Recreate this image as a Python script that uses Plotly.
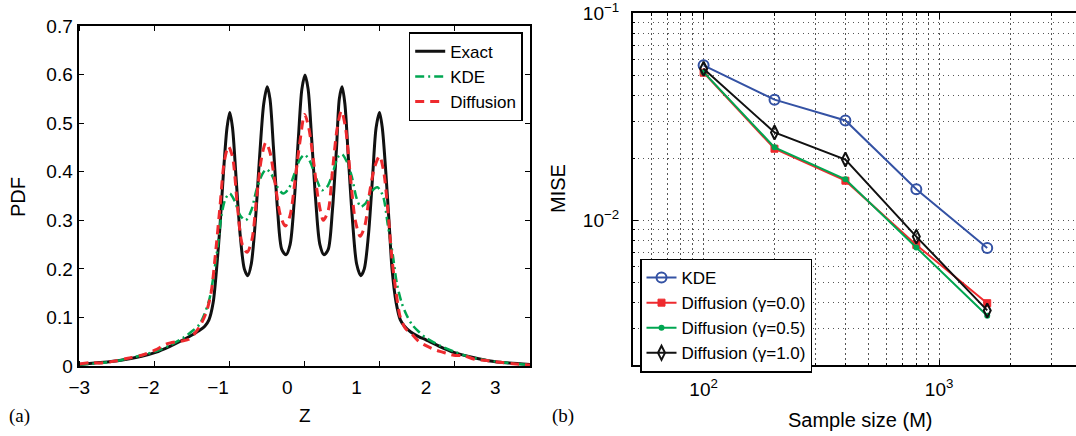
import plotly.graph_objects as go
import math

# ---------------- data: panel (a) ----------------
exact_z = [-3.0, -2.7, -2.4, -2.1, -1.9, -1.7, -1.5, -1.35, -1.26, -1.19, -1.13, -1.07,
           -1.02, -0.97, -0.92, -0.87, -0.83, -0.79, -0.74, -0.68, -0.62, -0.57, -0.52,
           -0.46, -0.40, -0.34, -0.29, -0.25, -0.20, -0.14, -0.08, -0.02, 0.04, 0.10,
           0.16, 0.21, 0.255, 0.30, 0.35, 0.41, 0.47, 0.53, 0.59, 0.65, 0.71, 0.75, 0.79,
           0.83, 0.88, 0.94, 1.00, 1.06, 1.11, 1.17, 1.23, 1.28, 1.33, 1.37, 1.42, 1.47,
           1.51, 1.57, 1.63, 1.69, 1.78, 1.9, 2.0, 2.2, 2.4, 2.6, 2.9, 3.2, 3.5]
exact_p = [0.003, 0.007, 0.012, 0.020, 0.028, 0.040, 0.054, 0.066, 0.074, 0.082, 0.095, 0.13,
           0.20, 0.29, 0.40, 0.49, 0.522, 0.49, 0.39, 0.27, 0.20, 0.186, 0.21,
           0.30, 0.43, 0.54, 0.575, 0.55, 0.45, 0.32, 0.24, 0.229, 0.25, 0.34,
           0.47, 0.57, 0.599, 0.57, 0.47, 0.34, 0.25, 0.229, 0.24, 0.32, 0.45, 0.55, 0.575,
           0.54, 0.43, 0.30, 0.21, 0.186, 0.20, 0.27, 0.39, 0.49, 0.522, 0.49, 0.40, 0.29,
           0.20, 0.13, 0.095, 0.082, 0.070, 0.060, 0.054, 0.040, 0.028, 0.020, 0.011, 0.006, 0.003]

kde_z = [-3.0, -2.7, -2.4, -2.1, -1.9, -1.7, -1.5, -1.37, -1.27, -1.2, -1.12, -1.06, -1.0,
         -0.95, -0.89, -0.83, -0.76, -0.68, -0.6, -0.52, -0.44, -0.36, -0.30, -0.23, -0.15,
         -0.06, 0.02, 0.10, 0.18, 0.25, 0.33, 0.42, 0.50, 0.58, 0.66, 0.73, 0.79, 0.86,
         0.93, 1.0, 1.06, 1.13, 1.22, 1.30, 1.38, 1.45, 1.52, 1.58, 1.65, 1.72, 1.8, 1.9,
         2.0, 2.2, 2.4, 2.6, 2.9, 3.2, 3.5]
kde_p = [0.003, 0.006, 0.012, 0.022, 0.030, 0.042, 0.058, 0.072, 0.085, 0.105, 0.14, 0.19, 0.25,
         0.31, 0.345, 0.355, 0.34, 0.31, 0.30, 0.32, 0.365, 0.395, 0.405, 0.395, 0.37,
         0.355, 0.365, 0.395, 0.425, 0.435, 0.42, 0.385, 0.362, 0.37, 0.40, 0.43, 0.436, 0.42,
         0.39, 0.345, 0.328, 0.335, 0.36, 0.368, 0.35, 0.29, 0.23, 0.17, 0.13, 0.105, 0.085, 0.070,
         0.058, 0.042, 0.030, 0.020, 0.011, 0.006, 0.002]

diff_z = [-3.0, -2.85, -2.7, -2.5, -2.3, -2.1, -1.9, -1.75, -1.6, -1.5, -1.42, -1.33, -1.25,
          -1.17, -1.1, -1.03, -0.97, -0.91, -0.85, -0.79, -0.72, -0.65, -0.58, -0.51, -0.44,
          -0.37, -0.31, -0.25, -0.18, -0.10, -0.03, 0.04, 0.11, 0.18, 0.25, 0.31, 0.38, 0.45,
          0.52, 0.59, 0.65, 0.72, 0.78, 0.84, 0.91, 0.98, 1.05, 1.12, 1.19, 1.26, 1.33, 1.39,
          1.45, 1.51, 1.57, 1.63, 1.7, 1.8, 1.9, 2.0, 2.1, 2.2, 2.3, 2.4, 2.55, 2.7, 2.9,
          3.1, 3.3, 3.5]
diff_p = [0.004, 0.007, 0.006, 0.010, 0.016, 0.022, 0.033, 0.045, 0.050, 0.052, 0.055, 0.068, 0.085,
          0.11, 0.15, 0.24, 0.33, 0.42, 0.452, 0.43, 0.33, 0.25, 0.234, 0.26, 0.35,
          0.43, 0.46, 0.44, 0.38, 0.31, 0.288, 0.31, 0.38, 0.46, 0.518, 0.49, 0.42, 0.34,
          0.30, 0.32, 0.40, 0.49, 0.525, 0.49, 0.39, 0.30, 0.267, 0.29, 0.36, 0.41, 0.432, 0.40,
          0.32, 0.22, 0.15, 0.10, 0.078, 0.065, 0.050, 0.042, 0.035, 0.030, 0.026, 0.022, 0.021, 0.014, 0.011,
          0.007, 0.004, 0.002]

a_xtick_vals = [-3, -2, -1, 0, 1, 2, 3]
a_xtick_text = ["\u22123", "\u22122", "\u22121", "0", "1", "2", "3"]
a_xmark_vals = [-3.0, -1.9167, -0.8333, 0.25, 1.3333, 2.4167, 3.5]
a_ytick_vals = [0, 0.1, 0.2, 0.3, 0.4, 0.5, 0.6, 0.7]
a_ytick_text = ["0", "0.1", "0.2", "0.3", "0.4", "0.5", "0.6", "0.7"]

# ---------------- data: panel (b) ----------------
sample_size = [100, 200, 400, 800, 1600]
mise_kde = [0.0561, 0.0383, 0.0304, 0.01416, 0.00736]
mise_g00 = [0.0517, 0.0222, 0.01556, 0.00762, 0.00399]
mise_g05 = [0.0520, 0.02255, 0.0158, 0.0074, 0.00347]
mise_g10 = [0.0540, 0.0266, 0.0197, 0.00836, 0.00368]

b_xtick_vals = [100, 1000]
b_xtick_text = ["10<sup>2</sup>", "10<sup>3</sup>"]
b_xminor = [50, 60, 70, 80, 90, 200, 300, 400, 500, 600, 700, 800, 900, 2000, 3000]
b_ytick_vals = [0.01, 0.1]
b_ytick_text = ["10<sup>\u22122</sup>", "10<sup>\u22121</sup>"]
b_yminor = [0.002, 0.003, 0.004, 0.005, 0.006, 0.007, 0.008, 0.009,
            0.02, 0.03, 0.04, 0.05, 0.06, 0.07, 0.08, 0.09]

BLUE = "#3452a4"
RED = "#ee2a2e"
GREEN = "#00a651"
BLACK = "#111111"
GRID = "#555555"
GRID_DASH = "1.5px,3.5px"
FONT = "Liberation Sans, Arial, sans-serif"

W, H = 1076, 436
def px(x):
    return x / W
def py(y):
    return (H - y) / H

fig = go.Figure()

fig.add_trace(go.Scatter(x=exact_z, y=exact_p, name="Exact", mode="lines",
                         line=dict(color=BLACK, width=3, shape="spline", smoothing=0.8),
                         xaxis="x", yaxis="y", legend="legend"))
fig.add_trace(go.Scatter(x=kde_z, y=kde_p, name="KDE", mode="lines",
                         line=dict(color=GREEN, width=2.5, dash="9px,4px,2px,4px", shape="spline", smoothing=0.8),
                         xaxis="x", yaxis="y", legend="legend"))
fig.add_trace(go.Scatter(x=diff_z, y=diff_p, name="Diffusion", mode="lines",
                         line=dict(color=RED, width=3, dash="9px,6px", shape="spline", smoothing=0.8),
                         xaxis="x", yaxis="y", legend="legend"))

fig.add_trace(go.Scatter(x=sample_size, y=mise_kde, name="KDE", mode="lines+markers",
                         line=dict(color=BLUE, width=2),
                         marker=dict(symbol="circle-open", size=10, color=BLUE, line=dict(width=2)),
                         xaxis="x2", yaxis="y2", legend="legend2"))
fig.add_trace(go.Scatter(x=sample_size, y=mise_g00, name="Diffusion (\u03b3=0.0)", mode="lines+markers",
                         line=dict(color=RED, width=2),
                         marker=dict(symbol="square", size=7, color=RED, line=dict(width=1, color=RED)),
                         xaxis="x2", yaxis="y2", legend="legend2"))
fig.add_trace(go.Scatter(x=sample_size, y=mise_g05, name="Diffusion (\u03b3=0.5)", mode="lines+markers",
                         line=dict(color=GREEN, width=2),
                         marker=dict(symbol="circle", size=6, color=GREEN),
                         xaxis="x2", yaxis="y2", legend="legend2"))
fig.add_trace(go.Scatter(x=sample_size, y=mise_g10, name="Diffusion (\u03b3=1.0)", mode="lines+markers",
                         line=dict(color=BLACK, width=2),
                         marker=dict(symbol="diamond-tall-open", size=10, color=BLACK, line=dict(width=2)),
                         xaxis="x2", yaxis="y2", legend="legend2"))

axis_common = dict(showline=True, linecolor="black", linewidth=1.5, zeroline=False,
                   automargin=False, ticklabeloverflow="allow",
                   tickfont=dict(family=FONT, size=19, color="black"))

fig.update_layout(
    width=W, height=H,
    margin=dict(l=0, r=0, t=0, b=0, pad=0, autoexpand=False),
    paper_bgcolor="white", plot_bgcolor="white",
    font=dict(family=FONT, color="black"),
    xaxis=dict(domain=[px(79.3), px(530)], range=[-3, 3.5], anchor="y",
               tickmode="array", tickvals=a_xtick_vals, ticktext=a_xtick_text,
               ticks="", showgrid=False, mirror="ticks", ticklabelstandoff=3,
               minor=dict(tickmode="array", tickvals=a_xmark_vals, ticks="inside",
                          ticklen=5, tickwidth=1, tickcolor="black", showgrid=False),
               **axis_common),
    yaxis=dict(domain=[py(366), py(26)], range=[0, 0.7], anchor="x",
               tickmode="array", tickvals=a_ytick_vals, ticktext=a_ytick_text,
               ticks="inside", ticklen=5, tickwidth=1, tickcolor="black",
               showgrid=False, mirror="ticks", ticklabelstandoff=1,
               **axis_common),
    xaxis2=dict(domain=[px(632.7), 1.0], type="log",
                range=[math.log10(50), math.log10(3811)], anchor="y2",
                tickmode="array", tickvals=b_xtick_vals, ticktext=b_xtick_text,
                ticks="inside", ticklen=6, tickwidth=1, tickcolor="black",
                showgrid=True, gridcolor=GRID, griddash=GRID_DASH, gridwidth=1,
                mirror="ticks", ticklabelstandoff=6,
                minor=dict(tickmode="array", tickvals=b_xminor, ticks="inside", ticklen=3,
                           tickwidth=1, tickcolor="black", showgrid=True,
                           gridcolor=GRID, griddash=GRID_DASH, gridwidth=1),
                **axis_common),
    yaxis2=dict(domain=[py(365.3), py(13.3)], type="log",
                range=[math.log10(0.002), -1], anchor="x2",
                tickmode="array", tickvals=b_ytick_vals, ticktext=b_ytick_text,
                ticks="inside", ticklen=6, tickwidth=1, tickcolor="black",
                showgrid=True, gridcolor=GRID, griddash=GRID_DASH, gridwidth=1,
                mirror=False, ticklabelstandoff=8,
                minor=dict(tickmode="array", tickvals=b_yminor, ticks="inside", ticklen=3,
                           tickwidth=1, tickcolor="black", showgrid=True,
                           gridcolor=GRID, griddash=GRID_DASH, gridwidth=1),
                **axis_common),
    legend=dict(x=px(522.7), xanchor="right", y=py(32.3), yanchor="top",
                bgcolor="white", bordercolor="black", borderwidth=1.5,
                font=dict(family=FONT, size=17, color="black"), tracegroupgap=0,
                itemwidth=30),
    legend2=dict(x=px(640), xanchor="left", y=py(258.5), yanchor="top",
                 bgcolor="white", bordercolor="black", borderwidth=1.5,
                 font=dict(family=FONT, size=17, color="black"), tracegroupgap=0,
                 itemwidth=30),
    showlegend=True,
)

ann = [
    dict(text="(a)", x=px(19), y=py(416), font=dict(family="Liberation Serif, Times New Roman, serif", size=19)),
    dict(text="(b)", x=px(563), y=py(416), font=dict(family="Liberation Serif, Times New Roman, serif", size=19)),
    dict(text="Z", x=px(305), y=py(415), font=dict(family=FONT, size=19)),
    dict(text="Sample size (M)", x=px(860), y=py(420), font=dict(family=FONT, size=20)),
    dict(text="PDF", x=px(18), y=py(197), textangle=-90, font=dict(family=FONT, size=20)),
    dict(text="MISE", x=px(558), y=py(189), textangle=-90, font=dict(family=FONT, size=20)),
]
for a in ann:
    fig.add_annotation(xref="paper", yref="paper", xanchor="center", yanchor="middle",
                       showarrow=False, font_color="black", **{k: v for k, v in a.items()})

fig.write_html("out.html")
